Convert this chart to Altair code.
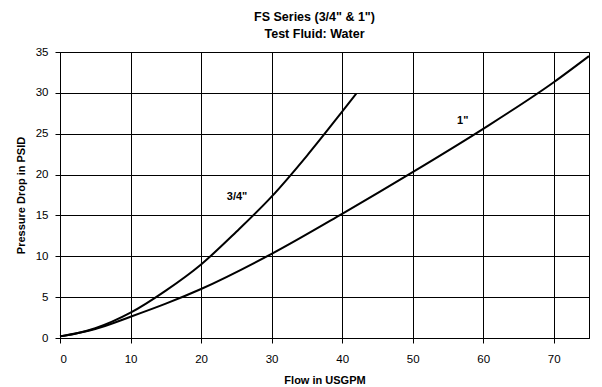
import altair as alt
import pandas as pd

# 3/4" curve
flow_34 = [0, 2, 5, 10, 15, 20, 25, 30, 35, 40, 42]
psid_34 = [0.2, 0.5, 1.2, 3.1, 5.8, 9.0, 13.0, 17.3, 22.3, 27.7, 29.9]

# 1" curve
flow_1 = [0, 5, 10, 15, 20, 30, 40, 50, 60, 70, 75]
psid_1 = [0.2, 1.1, 2.6, 4.2, 6.0, 10.3, 15.2, 20.3, 25.6, 31.3, 34.5]

label_text = ['3/4"', '1"']
label_x = [25.1, 57.1]
label_y = [17.2, 26.6]

x_ticks = [0, 10, 20, 30, 40, 50, 60, 70]
y_ticks = [0, 5, 10, 15, 20, 25, 30, 35]

df = pd.concat([
    pd.DataFrame({"flow": flow_34, "psid": psid_34, "size": '3/4"'}),
    pd.DataFrame({"flow": flow_1, "psid": psid_1, "size": '1"'}),
])
lab = pd.DataFrame({"t": label_text, "x": label_x, "y": label_y})

FONT = "Liberation Sans"

x = alt.X("flow:Q", scale=alt.Scale(domain=[0, 75], nice=False),
          axis=alt.Axis(title="Flow in USGPM", values=x_ticks, format="d",
                        tickSize=5, labelPadding=10, titlePadding=10))
y = alt.Y("psid:Q", scale=alt.Scale(domain=[0, 35], nice=False),
          axis=alt.Axis(title="Pressure Drop in PSID", values=y_ticks, format="d",
                        tickSize=5, labelPadding=7, titlePadding=9))

lines = alt.Chart(df).mark_line(color="black", strokeWidth=2, interpolate="monotone").encode(
    x=x, y=y, detail="size:N"
)
texts = alt.Chart(lab).mark_text(font=FONT, fontSize=11, fontWeight="bold", color="black").encode(
    x="x:Q", y="y:Q", text="t:N"
)

chart = alt.layer(lines, texts).properties(
    width=529, height=286,
    title=alt.TitleParams(
        text=['FS Series (3/4" & 1")', "Test Fluid: Water"],
        font=FONT, fontSize=12.5, fontWeight="bold", color="black",
        lineHeight=17, anchor="middle", frame="group", dx=-10, offset=6,
    ),
    autosize=alt.AutoSizeParams(type="none"),
    padding={"left": 52, "top": 44, "right": 5, "bottom": 49},
).configure_axis(
    labelFont=FONT, labelFontSize=11.5, labelColor="black",
    titleFont=FONT, titleFontSize=11, titleFontWeight="bold", titleColor="black",
    gridColor="black", gridOpacity=1, gridWidth=1,
    domainColor="black", tickColor="black", domainWidth=1,
).configure_view(stroke="black", strokeWidth=1)

chart.save("out.html", embed_options={"renderer": "svg", "actions": False})
